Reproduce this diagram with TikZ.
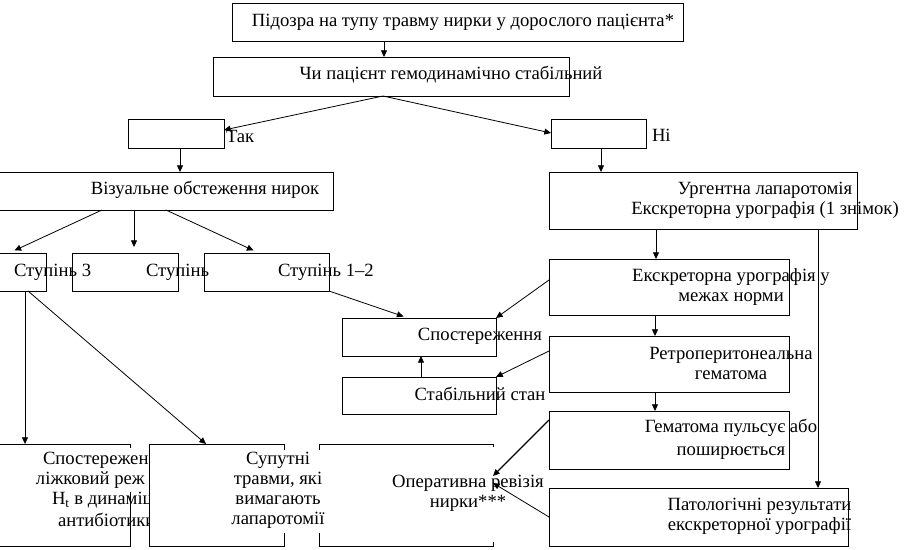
\documentclass[tikz,border=0pt]{standalone}
\usepackage{fontspec}
\setmainfont{Liberation Serif}
\usetikzlibrary{arrows.meta}
\newcommand\mkbox[6][]{\node[box,#1,minimum width={(#5-#3)*0.75pt},minimum height={(#6-#4)*0.75pt}] (#2) at ({(#3+#5)/2},{(#4+#6)/2}) {};}
\begin{document}
\begin{tikzpicture}[x=0.75pt,y=-0.75pt,
  box/.style={draw,line width=0.6pt,inner sep=0pt,outer sep=0pt},
  lbl/.style={inner sep=0pt,outer sep=0pt,font=\fontsize{14}{15}\selectfont,align=center},
  conn/.style={line width=0.6pt,-{Triangle[length=5pt,width=4.5pt]}},
  edge/.style={line width=0.6pt}]
\useasboundingbox[fill=white] (0,0) rectangle (922,550);

% boxes
\mkbox{b1}{232}{3}{683}{41}
\mkbox{b2}{213}{57}{569}{96}
\mkbox{tak}{128}{119}{224}{148}
\mkbox{ni}{551}{119}{646}{148}
\mkbox{viz}{-1}{172}{333}{210}
\mkbox{stA}{-1}{253}{46}{291}
\mkbox{stB}{72}{253}{178}{291}
\mkbox[fill=white]{stC}{204}{253}{329}{291}
\mkbox{urg}{549}{172}{857}{229}
\mkbox{norm}{549}{259}{789}{315}
\mkbox{retro}{549}{336}{789}{392}
\mkbox{hem}{549}{411}{789}{469}
\mkbox{pat}{549}{488}{848}{546}
\mkbox{sp}{342}{318}{496}{356}
\mkbox{stab}{342}{377}{496}{414}
\mkbox[draw=none]{left}{-1}{444}{130}{546}
\mkbox[draw=none]{sup}{149}{444}{284}{546}
\mkbox[draw=none]{oper}{319}{444}{493}{546}

% partial box outlines
\draw[edge] (left.north west) -- (left.north east) -- ++(0,4);
\draw[edge] (left.south west) -- (left.south east) -- ++(0,-54);
\draw[edge] (sup.north east) ++(0,6) -- (sup.north east) -- (sup.north west) -- (sup.south west) -- (sup.south east) -- ++(0,-13);
\draw[edge] (oper.north west) ++(0,6) -- (oper.north west) -- (oper.north east) -- ++(0,3);
\draw[edge] (oper.south west) ++(0,-13) -- (oper.south west) -- (oper.south east) -- ++(0,-4);

% texts
\node[lbl] (t1) at (463,22) {Підозра на тупу травму нирки у дорослого пацієнта*};
\node[lbl] (t2) at (451,75) {Чи пацієнт гемодинамічно стабільний};
\node[lbl,anchor=west] (ttak) at (226,136) {Так};
\node[lbl,anchor=west] (tni) at (652,135) {Ні};
\node[lbl] (tviz) at (205,190) {Візуальне обстеження нирок};
\node[lbl,anchor=west] (tstA) at (14,272) {Ступінь 3};
\node[lbl,anchor=west] (tstB) at (146,272) {Ступінь};
\node[lbl,anchor=west] (tstC) at (278,272) {Ступінь 1–2};
\node[lbl] (turg) at (765,200) {Ургентна лапаротомія\\Екскреторна урографія (1 знімок)};
\node[lbl] (tnorm) at (731,287.5) {Екскреторна урографія у\\межах норми};
\node[lbl] (tsp) at (480,336) {Спостереження};
\node[lbl] (tstab) at (480,394) {Стабільний стан};
\node[lbl] (tretro) at (731,363) {Ретроперитонеальна\\гематома};
\node[lbl] (them) at (731,439) {Гематома пульсує або\\[2.25pt]поширюється};
\node[lbl] (tpat) at (759.5,516.5) {Патологічні результати\\екскреторної урографії};
\node[lbl] (toper) at (468,493) {Оперативна ревізія\\нирки***};
\node[lbl] (tsup) at (278,490) {Супутні\\травми, які\\вимагають\\лапаротомії};
\begin{scope}
  \clip (0,440) rectangle (149,550);
  \node[lbl,anchor=west] (tl1) at (43,460) {Спостережен};
  \node[lbl,anchor=west] (tl2) at (36,480) {ліжковий реж};
  \node[lbl,anchor=west] (tl3) at (52,500) {H\textsubscript{t} в динаміц};
  \node[lbl,anchor=west] (tl4) at (58,520) {антибіотики};
\end{scope}

% connectors
\draw[conn] (b1.south -| 384,0) -- (b2.north -| 384,0);
\draw[conn] (b2.south -| 383,0) -- (tak.east |- 0,130);
\draw[conn] (b2.south -| 383,0) -- (ni.west |- 0,133);
\draw[conn] (tak.south -| 180,0) -- (viz.north -| 180,0);
\draw[conn] (ni.south -| 601,0) -- (urg.north -| 601,0);
\draw[conn,shorten >=4.5pt] (viz.south -| 102,0) -- (stA.north -| 9,0);
\draw[conn,shorten >=4.5pt] (viz.south -| 134,0) -- (stB.north -| 134,0);
\draw[conn,shorten >=4.5pt] (viz.south -| 166,0) -- (stC.north -| 259,0);
\draw[conn] (stA.south -| 25,0) -- (left.north -| 25,0);
\draw[conn] (stA.south -| 28,0) -- (sup.north -| 206,0);
\draw[conn,shorten >=3.5pt] (stC.south east) -- (sp.north -| 408,0);
\draw[conn] (urg.south -| 656,0) -- (norm.north -| 656,0);
\draw[conn] (urg.south -| 818,0) -- (pat.north -| 818,0);
\draw[conn] (norm.west |- 0,280) -- (sp.north east);
\draw[conn] (norm.south -| 655,0) -- (retro.north -| 655,0);
\draw[conn] (retro.west |- 0,351) -- (stab.north east);
\draw[conn] (stab.north -| 421,0) -- (sp.south -| 421,0);
\draw[conn] (retro.south -| 655,0) -- (hem.north -| 655,0);
\draw[conn,line width=1pt] (hem.west |- 0,420) -- (oper.east |- 0,476);
\draw[conn] (pat.west |- 0,517) -- (oper.east |- 0,483);
\end{tikzpicture}
\end{document}
